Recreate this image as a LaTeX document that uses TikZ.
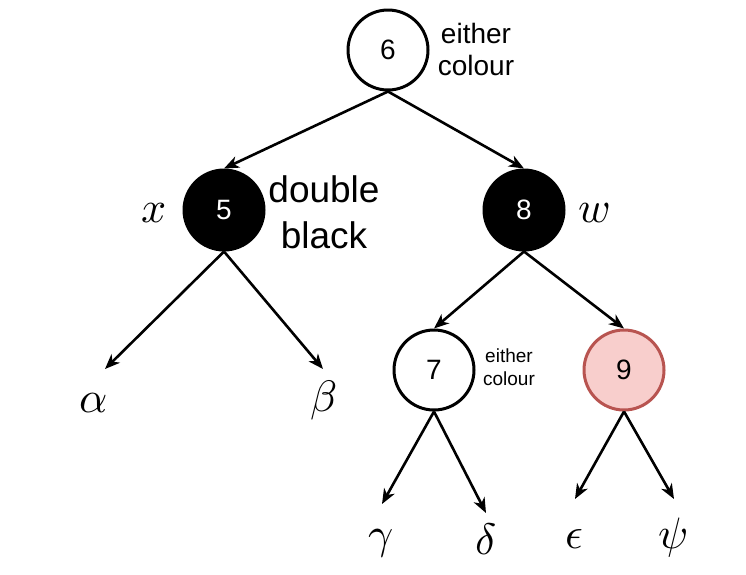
\documentclass[tikz,border=0pt]{standalone}
\usepackage{fontspec}
\usepackage{unicode-math}
\setmainfont{Liberation Sans}
\setmathfont{Latin Modern Math}
\usetikzlibrary{arrows.meta}
\definecolor{pinkfill}{HTML}{F8CECC}
\definecolor{pinkdraw}{HTML}{B85450}
\newcommand{\digitfont}{\fontsize{28}{30}\selectfont}
\begin{document}
\begin{tikzpicture}[x=1pt,y=-1pt,
  treenode/.style={circle,minimum size=80pt,inner sep=0pt,line width=3pt},
  whitenode/.style={treenode,draw=black,fill=white},
  blacknode/.style={treenode,draw=black,fill=black,text=white},
  rednode/.style={treenode,draw=pinkdraw,fill=pinkfill},
  edge/.style={line width=2.6pt,-{Stealth[length=15pt,width=12pt,inset=4.5pt]}},
  greek/.style={inner sep=0pt,anchor=base,font=\fontsize{44}{44}\selectfont},
  note/.style={inner sep=0pt,align=center}
]
\useasboundingbox (0,0) rectangle (746,574);
\node[whitenode] (n6) at (388,50) {\digitfont 6};
\node[blacknode] (n5) at (224,210) {\digitfont 5};
\node[blacknode] (n8) at (524,210) {\digitfont 8};
\node[whitenode] (n7) at (434,370) {\digitfont 7};
\node[rednode] (n9) at (624,370) {\digitfont 9};

\node[note,font=\fontsize{28}{32}\selectfont] (t6) at (476,49) {either\\colour};
\node[note,font=\fontsize{37}{46}\selectfont] (db) at (324,212) {double\\black};
\node[note,font=\fontsize{19}{23}\selectfont] (t7) at (509,367) {either\\colour};

\node[greek] (lx) at (154,222) {$x$};
\node[greek] (lw) at (594,222) {$w$};
\node[greek] (la) at (94,412) {$\alpha$};
\node[greek] (lb) at (324,411) {$\beta$};
\node[greek] (lg) at (381,548) {$\gamma$};
\node[greek] (ld) at (486,554) {$\delta$};
\node[greek] (le) at (574,548) {$\epsilon$};
\node[greek] (lp) at (673,548) {$\psi$};

\coordinate (ca) at (105,369);
\coordinate (cb) at (323,369);
\coordinate (cg) at (382,504);
\coordinate (cd) at (486,513);
\coordinate (ce) at (575,499);
\coordinate (cp) at (674,499);

\draw[edge] (n6.south) -- (n5.north);
\draw[edge] (n6.south) -- (n8.north);
\draw[edge] (n5.south) -- (ca);
\draw[edge] (n5.south) -- (cb);
\draw[edge] (n8.south) -- (n7.north);
\draw[edge] (n8.south) -- (n9.north);
\draw[edge] (n7.south) -- (cg);
\draw[edge] (n7.south) -- (cd);
\draw[edge] (n9.south) -- (ce);
\draw[edge] (n9.south) -- (cp);
\end{tikzpicture}
\end{document}
